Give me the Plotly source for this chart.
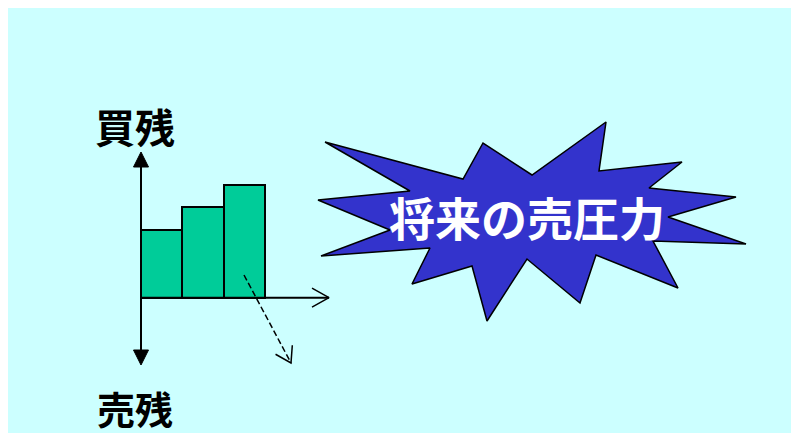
import math
import plotly.graph_objects as go

W, H = 791, 435

# ---- data ----
categories = [0, 1, 2]          # three periods
values = [3, 4, 5]              # buy-side remaining orders (relative units)
label_top = "買残"
label_bottom = "売残"
burst_label = "将来の売圧力"

# ---- styling / geometry ----
BG = "#CCFFFF"
BAR = "#00CC99"
BURST = "#3333CC"
FONT = "Noto Sans CJK JP"
ORIGIN = (141.0, 297.7)   # pixel position of the chart origin
UX = 41.3                 # pixels per category
UY = 22.6                 # pixels per value unit
Y_TOP, Y_BOT = 152.0, 365.0
X_END = 329.0

# starburst outline (pixel coords)
burst = [(325, 142), (463, 179), (483, 143), (532, 175), (606, 122), (599, 171),
         (682, 162), (649, 188), (736, 197), (668, 217), (746, 244), (653, 241),
         (678, 288), (596, 255), (580, 303), (527, 259), (487, 321), (472, 266),
         (412, 284), (430, 248), (321, 256), (390, 230), (318, 200), (410, 191)]

ox, oy = ORIGIN
fig = go.Figure()

# bars on the data axes (x/y)
fig.add_trace(go.Bar(x=categories, y=values, width=1,
                     marker=dict(color=BAR, line=dict(color="black", width=2)),
                     xaxis="x", yaxis="y", showlegend=False, hoverinfo="skip"))

def px_line(pts, width=2, dash=None, fill=None, fillcolor=None, color="black"):
    xs = [p[0] for p in pts]
    ys = [p[1] for p in pts]
    fig.add_trace(go.Scatter(x=xs, y=ys, mode="lines", xaxis="x2", yaxis="y2",
                             line=dict(color=color, width=width, dash=dash),
                             fill=fill, fillcolor=fillcolor,
                             showlegend=False, hoverinfo="skip"))

def head(tip, frm, L, w, filled, width=2):
    dx, dy = tip[0] - frm[0], tip[1] - frm[1]
    n = math.hypot(dx, dy)
    dx, dy = dx / n, dy / n
    bx, by = tip[0] - L * dx, tip[1] - L * dy
    p1 = (bx - w * dy, by + w * dx)
    p2 = (bx + w * dy, by - w * dx)
    if filled:
        px_line([tip, p1, p2, tip], width=1, fill="toself", fillcolor="black")
    else:
        px_line([p1, tip, p2], width=width)
    return (bx, by)

# starburst
bp = burst + [burst[0]]
px_line(bp, width=1.5, fill="toself", fillcolor=BURST)

# vertical axis with two filled heads
b1 = head((ox, Y_TOP), (ox, oy), 15, 7.5, True)
b2 = head((ox, Y_BOT), (ox, oy), 15, 7.5, True)
px_line([b1, b2], width=2)

# horizontal axis with open head
px_line([(ox, oy), (X_END, oy)], width=2)
head((X_END, oy), (ox, oy), 17, 9.5, False, width=1.5)

# dashed arrow from the last bar
d0 = (244, 275)
d1 = (291, 363)
px_line([d0, d1], width=1.5, dash="6px,3px")
head(d1, d0, 15, 9.5, False, width=1.5)

ann = [
    dict(x=135, y=126, text=f"<b>{label_top}</b>", font=dict(size=40, color="black", family=FONT)),
    dict(x=135, y=407, text=f"<b>{label_bottom}</b>", font=dict(size=38, color="black", family=FONT)),
    dict(x=527, y=216, text=f"<b>{burst_label}</b>", font=dict(size=46, color="white", family=FONT)),
]
for a in ann:
    a.update(xref="x2", yref="y2", showarrow=False, xanchor="center", yanchor="middle")

fig.update_layout(
    width=W, height=H, margin=dict(l=0, r=0, t=0, b=0),
    paper_bgcolor="white", plot_bgcolor="rgba(0,0,0,0)",
    xaxis=dict(domain=[0, 1], range=[(0 - ox) / UX - 0.5, (W - ox) / UX - 0.5], visible=False),
    yaxis=dict(domain=[0, 1], range=[(oy - H) / UY, oy / UY], visible=False),
    xaxis2=dict(domain=[0, 1], range=[0, W], visible=False, overlaying="x"),
    yaxis2=dict(domain=[0, 1], range=[H, 0], visible=False, overlaying="y"),
    annotations=ann,
    shapes=[dict(type="rect", xref="paper", yref="paper", x0=8 / W, x1=1,
                 y0=(H - 433) / H, y1=(H - 8) / H, fillcolor=BG, line=dict(width=0),
                 layer="below")],
    bargap=0,
)
fig.write_html("out.html")
